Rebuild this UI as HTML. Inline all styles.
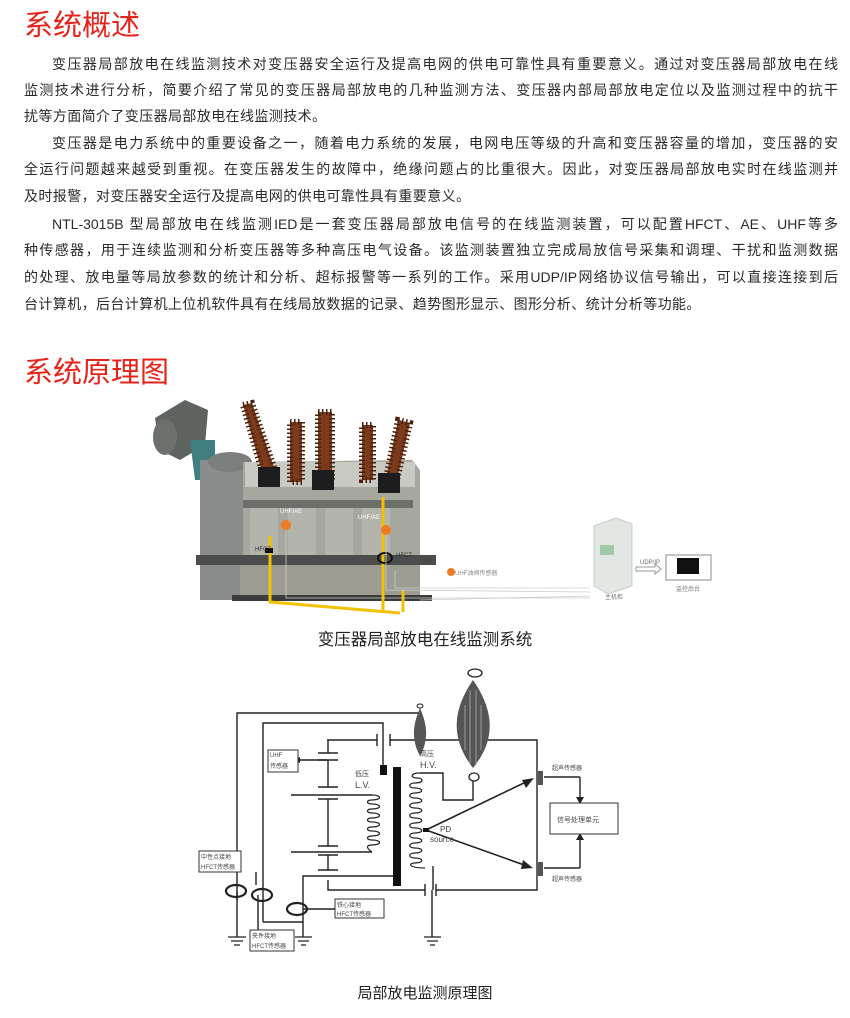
<!DOCTYPE html>
<html><head><meta charset="utf-8"><style>
html,body{margin:0;padding:0;background:#fff;}
body{width:850px;height:1018px;position:relative;overflow:hidden;font-family:"Liberation Sans","Noto Sans CJK SC",sans-serif;}
.t{position:absolute;left:24px;color:#e6231b;font-size:29px;line-height:30px;font-family:"Liberation Sans","Noto Sans CJK SC",sans-serif;}
.l{position:absolute;left:24px;width:814px;font-size:14px;line-height:16px;color:#2a2a2a;white-space:nowrap;}
.j{text-align:justify;text-align-last:justify;white-space:normal;}
.s{letter-spacing:0.4px;}
.cap{position:absolute;left:0;width:850px;text-align:center;font-size:16.5px;color:#222;}
</style></head><body>
<div class="t" style="top:11px">系统概述</div>
<div class="l j" style="top:56px;left:52px;width:786px">变压器局部放电在线监测技术对变压器安全运行及提高电网的供电可靠性具有重要意义。通过对变压器局部放电在线</div>
<div class="l j" style="top:82px">监测技术进行分析，简要介绍了常见的变压器局部放电的几种监测方法、变压器内部局部放电定位以及监测过程中的抗干</div>
<div class="l s" style="top:108px">扰等方面简介了变压器局部放电在线监测技术。</div>
<div class="l j" style="top:135px;left:52px;width:786px">变压器是电力系统中的重要设备之一，随着电力系统的发展，电网电压等级的升高和变压器容量的增加，变压器的安</div>
<div class="l j" style="top:161px">全运行问题越来越受到重视。在变压器发生的故障中，绝缘问题占的比重很大。因此，对变压器局部放电实时在线监测并</div>
<div class="l s" style="top:188px">及时报警，对变压器安全运行及提高电网的供电可靠性具有重要意义。</div>
<div class="l j" style="top:216px;left:52px;width:786px">NTL-3015B 型局部放电在线监测IED是一套变压器局部放电信号的在线监测装置，可以配置HFCT、AE、UHF等多</div>
<div class="l j" style="top:242px">种传感器，用于连续监测和分析变压器等多种高压电气设备。该监测装置独立完成局放信号采集和调理、干扰和监测数据</div>
<div class="l j" style="top:269px">的处理、放电量等局放参数的统计和分析、超标报警等一系列的工作。采用UDP/IP网络协议信号输出，可以直接连接到后</div>
<div class="l s" style="top:296px">台计算机，后台计算机上位机软件具有在线局放数据的记录、趋势图形显示、图形分析、统计分析等功能。</div>
<div class="t" style="top:358px">系统原理图</div>

<svg style="position:absolute;left:0;top:0" width="850" height="1018" xmlns="http://www.w3.org/2000/svg">
<g>
<path d="M155 418 L185 400 L208 410 L205 445 L180 460 L160 450 Z" fill="#5f6360"/>
<ellipse cx="165" cy="437" rx="12" ry="18" fill="#6c706d"/>
<path d="M190 440 L215 440 L215 480 L195 480 Z" fill="#3f7f80"/>
<rect x="200" y="460" width="45" height="140" fill="#8a8d8b"/>
<ellipse cx="230" cy="462" rx="22" ry="10" fill="#7c7f7d"/>
<path d="M243 462 L412 460 L420 470 L420 570 L243 570 Z" fill="#a6a79e"/>
<rect x="245" y="462" width="170" height="25" fill="#c9cac3"/>
<rect x="243" y="500" width="170" height="8" fill="#6d6f6a"/>
<rect x="250" y="508" width="28" height="60" fill="#b3b4ab"/>
<rect x="288" y="508" width="28" height="60" fill="#b3b4ab"/>
<rect x="325" y="508" width="28" height="60" fill="#b3b4ab"/>
<rect x="362" y="508" width="28" height="60" fill="#b3b4ab"/>
<rect x="196" y="555" width="240" height="10" fill="#4b4d4a"/>
<path d="M240 565 L420 565 L420 595 L240 600 Z" fill="#9c9c93"/>
<rect x="232" y="595" width="200" height="6" fill="#3b3b39"/>
<g fill="#7a3a1c" stroke="#4a200c" stroke-width="6" stroke-dasharray="1.5 2.5">
<path d="M243 405 L252 403 L275 470 L262 472 Z"/>
<rect x="290" y="422" width="12" height="60"/>
<rect x="318" y="412" width="14" height="68"/>
<rect x="362" y="425" width="11" height="55"/>
<path d="M398 420 L410 423 L397 480 L386 478 Z"/>
</g>
<rect x="258" y="467" width="22" height="20" fill="#1d1d1d"/>
<rect x="312" y="470" width="22" height="20" fill="#1d1d1d"/>
<rect x="378" y="473" width="22" height="20" fill="#1d1d1d"/>
<g stroke="#f2c100" stroke-width="3" fill="none">
<path d="M270 536 L270 602 L400 613"/>
<path d="M383 497 L383 612"/>
<path d="M403 590 L403 612"/>
</g>
<circle cx="286" cy="525" r="5" fill="#f07a22"/>
<circle cx="386" cy="530" r="5" fill="#f07a22"/>
<ellipse cx="385" cy="558" rx="7" ry="5" fill="none" stroke="#111" stroke-width="2"/>
<rect x="265" y="548" width="8" height="5" fill="#111"/>
<circle cx="451" cy="572" r="4" fill="#f07a22"/>
<g font-size="6" fill="#fff"><text x="280" y="513">UHF/AE</text><text x="358" y="519">UHF/AE</text></g>
<g font-size="6" fill="#333"><text x="255" y="551">HFCT</text><text x="396" y="557">HFCT</text><text x="455" y="575" fill="#888">UHF油阀传感器</text></g>
<g stroke="#ccc" stroke-width="0.8" fill="none">
<path d="M286 530 L286 598 L590 598"/><path d="M386 535 L386 590 L590 592"/><path d="M395 570 L395 588 L590 588"/><path d="M420 600 L590 596"/>
</g>
<path d="M594 526 L616 518 L632 524 L632 586 L608 594 L594 586 Z" fill="#e3e7e3" stroke="#c8ccc8"/>
<rect x="600" y="545" width="14" height="10" fill="#9fc9a8"/>
<path d="M636 567 L655 567 L655 564 L661 569 L655 574 L655 571 L636 571 Z" fill="#fff" stroke="#999"/>
<text x="640" y="564" font-size="6" fill="#666">UDP/IP</text>
<rect x="666" y="555" width="45" height="25" fill="#fff" stroke="#888"/>
<rect x="677" y="558" width="22" height="16" fill="#111"/>
<text x="605" y="599" font-size="6" fill="#777">主机柜</text>
<text x="676" y="591" font-size="6" fill="#777">监控后台</text>
</g>

<g stroke="#222" stroke-width="1.4" fill="none">
<path d="M237 937 L237 713 L420 713"/>
<path d="M263 922 L263 723 L383 723 L383 765"/>
<path d="M263 922 L303 922"/>
<path d="M303 937 L303 876 L395 876"/>
<path d="M327 740 L377 740 M377 734 L377 746 M390 734 L390 746 M390 740 L537 740 L537 890 L436 890 M436 884 L436 896 M425 884 L425 896 M425 890 L328 890 L328 880"/>
<path d="M328 740 L328 753 M318 753 L338 753 M318 760 L338 760 M328 760 L328 787 M318 787 L338 787 M318 799 L338 799 M328 799 L328 846 M318 846 L338 846 M318 855 L338 855 M328 855 L328 870 M318 870 L338 870"/>
<path d="M327 760 L300 760"/>
<path d="M291 795 L372 795 M291 852 L372 852"/>
<path d="M432 890 L432 937"/>
<path d="M420 773 L443 773 L443 800 L473 800 L473 777"/>
<path d="M433 866 L433 890"/>
<path d="M256 872 L256 885 M237 891 L237 900"/>
<path d="M258 895 L258 930 M303 909 L335 909"/>
<path d="M580 777 L580 800 M580 868 L580 837"/>
<path d="M544 777 L580 777 M544 868 L580 868"/>
</g>
<polygon points="300,757 292,760 300,763" fill="#222"/>
<polygon points="576,797 584,797 580,804" fill="#222"/>
<polygon points="576,840 584,840 580,833" fill="#222"/>
<rect x="393" y="767" width="8" height="119" fill="#111"/>
<rect x="380" y="765" width="7" height="10" fill="#111"/>
<g fill="none" stroke="#222" stroke-width="1.2">
<path d="M372 795 C382 795 382 800 372 800 C366 800 366 804 372 804 C382 804 382 809 372 809 C366 809 366 813 372 813 C382 813 382 818 372 818 C366 818 366 822 372 822 C382 822 382 827 372 827 C366 827 366 831 372 831 C382 831 382 836 372 836 C366 836 366 840 372 840 C382 840 382 845 372 845 C366 845 366 848 372 852"/>
<path d="M420 773 C410 773 410 778 417 778 C424 778 424 783 415 783 C408 783 408 788 415 788 C424 788 424 793 415 793 C408 793 408 798 415 798 C424 798 424 803 415 803 C408 803 408 808 415 808 C424 808 424 813 415 813 C408 813 408 818 415 818 C424 818 424 823 415 823 C408 823 408 828 415 828 C424 828 424 833 415 833 C408 833 408 838 415 838 C424 838 424 843 415 843 C408 843 408 848 415 848 C424 848 424 853 415 853 C408 853 408 858 415 858 C424 858 424 863 415 863 C408 863 408 868 425 868"/>
</g>
<path d="M420 708 C426 722 430 738 420 756 C410 738 414 722 420 708Z" fill="#555"/>
<ellipse cx="420" cy="706" rx="3" ry="2" fill="none" stroke="#222"/>
<path d="M473 680 C490 705 500 735 473 768 C447 735 456 705 473 680Z" fill="#555"/>
<g stroke="#ccc" stroke-width="0.6"><path d="M470 690 L470 765 M476 690 L476 765 M465 705 L465 750 M481 705 L481 750"/></g>
<ellipse cx="475" cy="673" rx="7" ry="4" fill="#fff" stroke="#222" stroke-width="1.3"/>
<ellipse cx="474" cy="777" rx="5" ry="4" fill="#fff" stroke="#222" stroke-width="1.3"/>
<g stroke="#222" stroke-width="1.6"><path d="M426 830 L528 781 M426 830 L527 866"/></g>
<polygon points="534,778 522,780 526,788" fill="#222"/>
<polygon points="533,868 523,860 521,869" fill="#222"/>
<rect x="423" y="828" width="6" height="4" fill="#111"/>
<rect x="538" y="771" width="5" height="14" fill="#555"/>
<rect x="538" y="862" width="5" height="14" fill="#555"/>
<g fill="none" stroke="#222" stroke-width="2.2">
<ellipse cx="236" cy="891" rx="10" ry="6"/><ellipse cx="262" cy="895" rx="10" ry="6"/><ellipse cx="297" cy="909" rx="10" ry="6"/>
</g>
<g stroke="#222" stroke-width="1.2" fill="none">
<path d="M228 937 L246 937 M231 941 L243 941 M234 945 L240 945"/>
<path d="M295 937 L312 937 M298 941 L309 941 M301 945 L306 945"/>
<path d="M424 937 L441 937 M427 941 L438 941 M430 945 L435 945"/>
</g>
<g fill="#fff" stroke="#333" stroke-width="1">
<rect x="268" y="750" width="30" height="22"/>
<rect x="199" y="851" width="42" height="21"/>
<rect x="335" y="899" width="49" height="19"/>
<rect x="250" y="930" width="44" height="21"/>
<rect x="550" y="803" width="68" height="31"/>
</g>
<g font-size="6" fill="#444" font-family="Liberation Sans,Noto Sans CJK SC,sans-serif">
<text x="270" y="757">UHF</text><text x="270" y="768">传感器</text>
<text x="201" y="859">中性点接地</text><text x="201" y="869">HFCT传感器</text>
<text x="337" y="907">铁心接地</text><text x="337" y="916">HFCT传感器</text>
<text x="252" y="938">夹件接地</text><text x="252" y="948">HFCT传感器</text>
<text x="557" y="822" font-size="7">信号处理单元</text>
<text x="552" y="770">超声传感器</text><text x="552" y="881">超声传感器</text>
<text x="355" y="776" font-size="7">低压</text><text x="355" y="788" font-size="9">L.V.</text>
<text x="420" y="756" font-size="7">高压</text><text x="420" y="768" font-size="9">H.V.</text>
<text x="440" y="832" font-size="8">PD</text><text x="430" y="842" font-size="8">source</text>
</g>
</svg>
<div class="cap" style="top:626px">变压器局部放电在线监测系统</div>
<div class="cap" style="top:982px;font-size:15px">局部放电监测原理图</div>
</body></html>
